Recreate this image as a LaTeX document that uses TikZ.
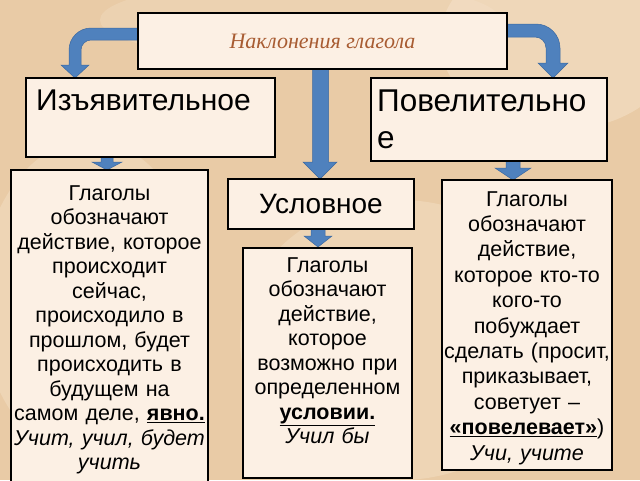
\documentclass[tikz,border=0pt]{standalone}
\usepackage{fontspec}
\setmainfont{Liberation Sans}
\newfontfamily\titlefont{Liberation Serif}
\definecolor{bgbase}{RGB}{233,203,166}
\definecolor{bglight}{RGB}{246,228,205}
\definecolor{boxfill}{RGB}{252,240,228}
\definecolor{arrowblue}{RGB}{79,129,189}
\definecolor{arrowedge}{RGB}{60,105,160}
\definecolor{titlebrown}{RGB}{168,92,50}
\tikzset{
  box/.style={draw=black, line width=1.6pt, fill=boxfill, inner sep=0pt},
  blockarrow/.style={fill=arrowblue, draw=arrowedge, line width=0.5pt, line join=miter},
  headtext/.style={inner sep=0pt, font=\fontsize{30}{37}\selectfont},
  bodytext/.style={inner sep=0pt, align=center, font=\fontsize{21.5}{24.5}\selectfont},
}
\begin{document}
\begin{tikzpicture}[x=1pt,y=-1pt]
\useasboundingbox (0,0) rectangle (640,480);
\clip (0,0) rectangle (640,480);
% background
\fill[bgbase] (0,0) rectangle (640,480);
\fill[bglight, opacity=0.5] (560,40) ellipse [x radius=120, y radius=90];
\fill[bglight, opacity=0.4] (90,300) ellipse [x radius=110, y radius=160];
\fill[bglight, opacity=0.4] (400,340) ellipse [x radius=160, y radius=140];
\fill[bglight, opacity=0.3] (300,20) ellipse [x radius=200, y radius=40];

% arrows (drawn first, boxes cover their roots)
\filldraw[blockarrow] (150,28) -- (91,28) .. controls (78.9,28) and (69,37.9) .. (69,50)
  -- (69,65) -- (61,65) -- (75,78) -- (89,65) -- (81,65) -- (81,50)
  .. controls (81,44.5) and (85.5,40) .. (91,40) -- (150,40) -- cycle;
\filldraw[blockarrow] (495,24) -- (536,24) .. controls (549.2,24) and (560,34.8) .. (560,48)
  -- (560,63) -- (568,63) -- (553,78) -- (538,63) -- (546,63) -- (546,48)
  .. controls (546,41.9) and (541.1,37) .. (535,37) -- (495,37) -- cycle;
\filldraw[blockarrow] (312.5,60) -- (312.5,162) -- (303,162) -- (320,179) -- (337,162)
  -- (328.5,162) -- (328.5,60) -- cycle;
\filldraw[blockarrow] (101,150) -- (101,162) -- (92,162) -- (107,170) -- (122,162)
  -- (113,162) -- (113,150) -- cycle;
\filldraw[blockarrow] (311,222) -- (311,236) -- (304,236) -- (318,247) -- (332,236)
  -- (325,236) -- (325,222) -- cycle;
\filldraw[blockarrow] (506,155) -- (506,168) -- (495,168) -- (513,180) -- (531,168)
  -- (520,168) -- (520,155) -- cycle;

% boxes
\node[box, minimum width=369pt, minimum height=56pt,
      font=\titlefont\itshape\fontsize{22}{24}\selectfont, text=titlebrown]
  (title) at (322.5,41) {\raisebox{-3pt}{Наклонения глагола}};
\node[box, minimum width=249pt, minimum height=79pt] (izj) at (150.5,117.5) {};
\node[box, minimum width=236pt, minimum height=83pt] (pov) at (489,119.5) {};
\node[box, minimum width=186pt, minimum height=50pt,
      font=\fontsize{28}{30}\selectfont] (usl) at (321,204) {Условное};
\node[box, minimum width=197pt, minimum height=320pt] (izjd) at (109.5,330) {};
\node[box, minimum width=169pt, minimum height=230pt] (usld) at (327.5,363) {};
\node[box, minimum width=170pt, minimum height=290pt] (povd) at (527,325) {};

% headings
\node[headtext, anchor=base west] (izjt) at (36,110) {Изъявительное};
\node[headtext, anchor=north west, align=left, font=\fontsize{31.5}{37}\selectfont]
  (povt) at (377,90) {Повелительно\\е};

% body texts
\node[bodytext, anchor=north, text width=205pt] (izjb) at (109.5,185)
  {Глаголы\\обозначают\\действие, которое\\происходит\\сейчас,\\происходило в\\прошлом, будет\\происходить в\\будущем на\\самом деле, \underline{\textbf{явно.}}\\\textit{Учит, учил, будет}\\\textit{учить}};
\node[bodytext, anchor=north, text width=175pt] (usldt) at (327.5,257)
  {Глаголы\\обозначают\\действие,\\которое\\возможно при\\определенном\\\underline{\textbf{условии.}}\\\textit{Учил бы}};
\node[bodytext, anchor=north, text width=180pt, font=\fontsize{21.5}{25.4}\selectfont] (povdt) at (527,191)
  {Глаголы\\обозначают\\действие,\\которое кто-то\\кого-то\\побуждает\\сделать (просит,\\приказывает,\\советует –\\\underline{\textbf{«повелевает»}})\\\textit{Учи, учите}};
\end{tikzpicture}
\end{document}
